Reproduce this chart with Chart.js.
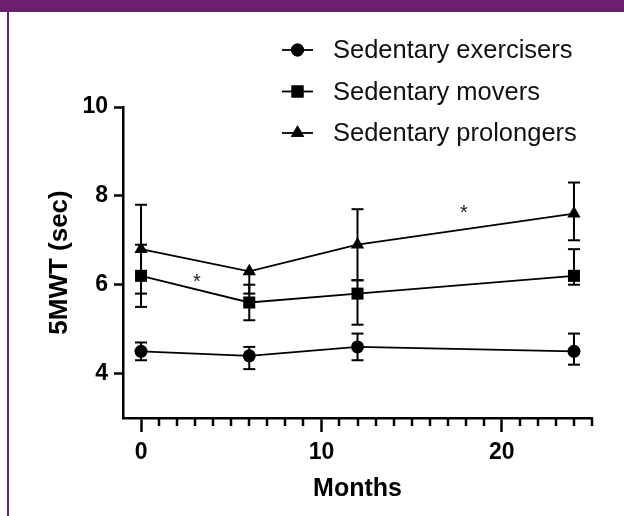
<!DOCTYPE html>
<html>
<head>
<meta charset="utf-8">
<script src="https://cdn.jsdelivr.net/npm/chart.js@4.4.1/dist/chart.umd.min.js"></script>
<style>
    html, body { margin: 0; padding: 0; background: #fff; }
    #wrap { position: relative; width: 624px; height: 516px; overflow: hidden; }
    #grafica { position: absolute; left: 0; top: 0; }
    .franja { position: absolute; background: #6b1f6e; }
</style>
</head>
<body>
<div id="wrap">
    <canvas id="grafica" width="624" height="516"></canvas>
    <div class="franja" style="left:0;top:0;width:624px;height:12px;"></div>
    <div class="franja" style="left:7px;top:0;width:2px;height:516px;"></div>
</div>
<script>
// datos
var meses = [0, 6, 12, 24];
var nombresSeries = ['Sedentary exercisers', 'Sedentary movers', 'Sedentary prolongers'];

var ejercitadores = [4.5, 4.4, 4.6, 4.5];
var ejercitadoresBajo = [4.3, 4.1, 4.3, 4.2];
var ejercitadoresAlto = [4.7, 4.6, 4.9, 4.9];

var movedores = [6.2, 5.6, 5.8, 6.2];
var movedoresBajo = [5.5, 5.2, 5.1, 6.0];
var movedoresAlto = [6.9, 6.0, 6.1, 6.8];

var prolongadores = [6.8, 6.3, 6.9, 7.6];
var prolongadoresBajo = [5.8, 5.8, 6.1, 7.0];
var prolongadoresAlto = [7.8, 6.3, 7.7, 8.3];

var ticksY = [4, 6, 8, 10];
var ticksX = [0, 10, 20];

// asteriscos de significancia
var asteriscosX = [3.1, 17.9];
var asteriscosY = [6.15, 7.71];

var fuente = "'Liberation Sans', Arial, sans-serif";

function puntos(valores) {
    return meses.map(function (m, i) { return { x: m, y: valores[i] }; });
}

var barrasError = [
    { bajo: ejercitadoresBajo, alto: ejercitadoresAlto, valores: ejercitadores },
    { bajo: movedoresBajo, alto: movedoresAlto, valores: movedores },
    { bajo: prolongadoresBajo, alto: prolongadoresAlto, valores: prolongadores }
];

var pluginErrores = {
    id: 'errores',
    beforeDatasetsDraw: function (chart) {
        var ctx = chart.ctx;
        var sx = chart.scales.x, sy = chart.scales.y;
        ctx.save();
        ctx.strokeStyle = '#000';
        ctx.lineWidth = 2;
        barrasError.forEach(function (b) {
            meses.forEach(function (m, i) {
                var px = sx.getPixelForValue(m);
                var pb = sy.getPixelForValue(b.bajo[i]);
                var pa = sy.getPixelForValue(b.alto[i]);
                ctx.beginPath();
                ctx.moveTo(px, pb);
                ctx.lineTo(px, pa);
                ctx.stroke();
                [[pb, b.bajo[i]], [pa, b.alto[i]]].forEach(function (c) {
                    if (c[1] === b.valores[i]) return;
                    ctx.beginPath();
                    ctx.moveTo(px - 6, c[0]);
                    ctx.lineTo(px + 6, c[0]);
                    ctx.stroke();
                });
            });
        });
        ctx.restore();
    },
    afterDraw: function (chart) {
        var ctx = chart.ctx;
        var sx = chart.scales.x, sy = chart.scales.y;
        ctx.save();

        // marcas menores del eje x
        ctx.strokeStyle = '#000';
        ctx.lineWidth = 2.5;
        var base = chart.chartArea.bottom;
        for (var m = 1; m <= 25; m++) {
            if (ticksX.indexOf(m) !== -1) continue;
            var px = Math.round(sx.getPixelForValue(m));
            ctx.beginPath();
            ctx.moveTo(px, base);
            ctx.lineTo(px, base + 8);
            ctx.stroke();
        }

        // asteriscos
        ctx.fillStyle = '#222';
        ctx.font = '20px ' + fuente;
        ctx.textAlign = 'center';
        ctx.textBaseline = 'alphabetic';
        asteriscosX.forEach(function (ax, i) {
            ctx.fillText('*', sx.getPixelForValue(ax), sy.getPixelForValue(asteriscosY[i]) + 10);
        });

        // leyenda
        var estilos = ['circle', 'rect', 'triangle'];
        var radios = [6.5, 8.5, 7.7];
        var filas = [50, 91.5, 133];
        ctx.font = '25.5px ' + fuente;
        ctx.textAlign = 'left';
        ctx.textBaseline = 'middle';
        nombresSeries.forEach(function (nombre, i) {
            var y = filas[i];
            ctx.strokeStyle = '#000';
            ctx.lineWidth = 1.8;
            ctx.beginPath();
            ctx.moveTo(282, y);
            ctx.lineTo(313, y);
            ctx.stroke();
            ctx.fillStyle = '#000';
            Chart.helpers.drawPoint(ctx, { pointStyle: estilos[i], radius: radios[i], rotation: 0, borderWidth: 0 }, 297.5, y);
            ctx.fill();
            ctx.fillStyle = '#111';
            ctx.fillText(nombre, 333, y + 1);
        });
        ctx.restore();
    }
};

function serie(etiqueta, valores, estilo, radio) {
    return {
        label: etiqueta,
        data: puntos(valores),
        borderColor: '#000',
        backgroundColor: '#000',
        borderWidth: 1.8,
        pointStyle: estilo,
        pointRadius: radio,
        pointBorderWidth: 0,
        pointBackgroundColor: '#000',
        tension: 0
    };
}

new Chart(document.getElementById('grafica').getContext('2d'), {
    type: 'line',
    data: {
        datasets: [
            serie(nombresSeries[0], ejercitadores, 'circle', 6.5),
            serie(nombresSeries[1], movedores, 'rect', 8.5),
            serie(nombresSeries[2], prolongadores, 'triangle', 7.7)
        ]
    },
    plugins: [pluginErrores],
    options: {
        responsive: false,
        animation: false,
        layout: { padding: { top: 107, right: 32, left: 0, bottom: 0 } },
        plugins: {
            legend: { display: false },
            tooltip: { enabled: false }
        },
        scales: {
            x: {
                type: 'linear',
                min: -1,
                max: 25,
                afterFit: function (scale) { scale.height = 98; },
                afterBuildTicks: function (scale) {
                    scale.ticks = ticksX.map(function (v) { return { value: v }; });
                },
                border: { display: true, color: '#000', width: 2.5 },
                grid: { display: true, drawOnChartArea: false, drawTicks: true, tickLength: 14, tickWidth: 2.5, tickColor: '#000' },
                ticks: { padding: 7, color: '#000', font: { family: fuente, size: 23, weight: 'bold' } },
                title: { display: true, text: 'Months', color: '#000', padding: { top: 0, bottom: 12 }, font: { family: fuente, size: 25, weight: 'bold' } }
            },
            y: {
                min: 3,
                max: 10,
                afterFit: function (scale) { scale.width = 123; },
                afterBuildTicks: function (scale) {
                    scale.ticks = ticksY.map(function (v) { return { value: v }; });
                },
                border: { display: true, color: '#000', width: 2.5 },
                grid: { display: true, drawOnChartArea: false, drawTicks: true, tickLength: 9, tickWidth: 2.5, tickColor: '#000' },
                ticks: { padding: 6, color: '#000', font: { family: fuente, size: 23, weight: 'bold' } },
                title: { display: true, text: '5MWT (sec)', color: '#000', padding: { top: 44, bottom: 0 }, font: { family: fuente, size: 26, weight: 'bold' } }
            }
        }
    }
});
</script>
</body>
</html>
